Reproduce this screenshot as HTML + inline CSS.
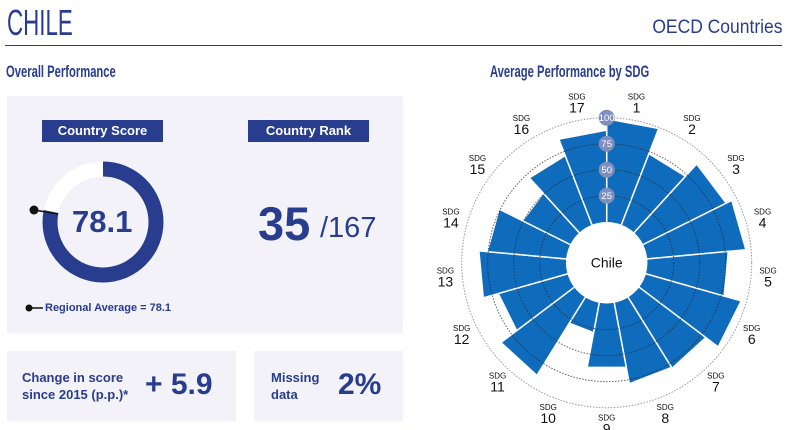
<!DOCTYPE html>
<html><head><meta charset="utf-8"><style>
body{margin:0;width:788px;height:430px;background:#fff;font-family:"Liberation Sans",sans-serif;color:#283d8e;position:relative;overflow:hidden}
.a{position:absolute;white-space:nowrap}
.box{position:absolute;background:#f2f2f8}
.lab{position:absolute;background:#283d8e;color:#fff;font-weight:bold;font-size:13px;text-align:center;line-height:22px;height:22px}
</style></head><body>
<div class="a" style="left:7px;top:2px;font-size:36px;transform:scaleX(0.62);transform-origin:left">CHILE</div>
<div class="a" style="right:6px;top:17px;font-size:19px;transform:scaleX(0.92);transform-origin:right">OECD Countries</div>
<div class="a" style="left:5px;top:45px;width:777px;height:1px;background:#283d8e"></div>
<div class="a" style="left:6px;top:62px;font-size:17px;font-weight:bold;transform:scaleX(0.66);transform-origin:left">Overall Performance</div>
<div class="a" style="left:490px;top:62px;font-size:17px;font-weight:bold;transform:scaleX(0.66);transform-origin:left">Average Performance by SDG</div>
<div class="box" style="left:7px;top:96px;width:396px;height:237px"></div>
<div class="box" style="left:7px;top:351px;width:229px;height:70px"></div>
<div class="box" style="left:254px;top:351px;width:149px;height:70px"></div>
<div class="lab" style="left:42px;top:120px;width:121px">Country Score</div>
<div class="lab" style="left:248px;top:120px;width:121px">Country Rank</div>
<svg class="a" style="left:0;top:0" width="420" height="430">
<circle cx="103" cy="222" r="53" fill="none" stroke="#fff" stroke-width="15"/>
<circle cx="103" cy="222" r="53" fill="none" stroke="#283d8e" stroke-width="15" stroke-dasharray="260.1 333" transform="rotate(-90 103 222)"/>
<line x1="34" y1="210" x2="58" y2="214" stroke="#111" stroke-width="1.5"/>
<circle cx="34" cy="210" r="4.5" fill="#111"/>
<circle cx="29" cy="308" r="3.5" fill="#111"/><line x1="29" y1="308" x2="43" y2="308" stroke="#111" stroke-width="1.5"/>
</svg>
<div class="a" style="left:72px;top:204px;font-size:31px;font-weight:bold">78.1</div>
<div class="a" style="left:45px;top:302px;font-size:11px;font-weight:bold">Regional Average = 78.1</div>
<div class="a" style="left:258px;top:196px;font-size:47px;font-weight:bold">35</div>
<div class="a" style="left:320px;top:212px;font-size:29px">/167</div>
<div class="a" style="left:22px;top:369px;font-size:13px;font-weight:bold;line-height:17px">Change in score<br>since 2015 (p.p.)*</div>
<div class="a" style="left:145px;top:368px;font-size:30px;font-weight:bold">+ 5.9</div>
<div class="a" style="left:271px;top:369px;font-size:13px;font-weight:bold;line-height:17px">Missing<br>data</div>
<div class="a" style="left:338px;top:368px;font-size:30px;font-weight:bold">2%</div>
<svg id="p" class="a" style="left:420px;top:90px" width="368" height="340"></svg>
<script>
var v=[99,73,89,95,78,95,80,79,63,29,88,69,84,76,51,71,88];
var cx=186.7,cy=172.7,r0=40,s=document.getElementById('p'),h='';
function R(x){return 41+1.04*x}
function P(r,a){a=a*Math.PI/180;return [cx+r*Math.sin(a),cy-r*Math.cos(a)]}
var st=360/17;
for(var i=0;i<17;i++){var a0=i*st,a1=a0+st,r=R(v[i]);
var p1=P(r0,a0),p2=P(r,a0),p3=P(r,a1),p4=P(r0,a1);
h+='<path d="M'+p1+'L'+p2+'L'+p3+'L'+p4+'A'+r0+' '+r0+' 0 0 0 '+p1+'Z" fill="#0f6cbd" stroke="#fff" stroke-width="1.5"/>';}
h+='<circle cx="'+cx+'" cy="'+cy+'" r="145" fill="none" stroke="#999" stroke-width="1" stroke-dasharray="1.5 1.5"/>';
[67,93,119].forEach(function(r){h+='<circle cx="'+cx+'" cy="'+cy+'" r="'+r+'" fill="none" stroke="#222" stroke-width="1" stroke-dasharray="1.5 1.5" opacity="0.7"/>';});
h+='<circle cx="'+cx+'" cy="'+cy+'" r="'+r0+'" fill="#fff"/>';
h+='<text x="'+cx+'" y="'+(cy+5)+'" font-size="14" text-anchor="middle" fill="#111">Chile</text>';
[[25,67],[50,93],[75,119],[100,145]].forEach(function(q){h+='<circle cx="'+cx+'" cy="'+(cy-q[1])+'" r="8" fill="#7e8fbe"/><text x="'+cx+'" y="'+(cy-q[1]+3.5)+'" font-size="9.5" text-anchor="middle" fill="#fff">'+q[0]+'</text>';});
for(var i=0;i<17;i++){var p=P(162,(i+0.5)*st);
h+='<text x="'+p[0]+'" y="'+(p[1]-4)+'" font-size="8" text-anchor="middle" fill="#111">SDG</text><text x="'+p[0]+'" y="'+(p[1]+9)+'" font-size="14" text-anchor="middle" fill="#111">'+(i+1)+'</text>';}
s.innerHTML=h;
</script>
</body></html>
